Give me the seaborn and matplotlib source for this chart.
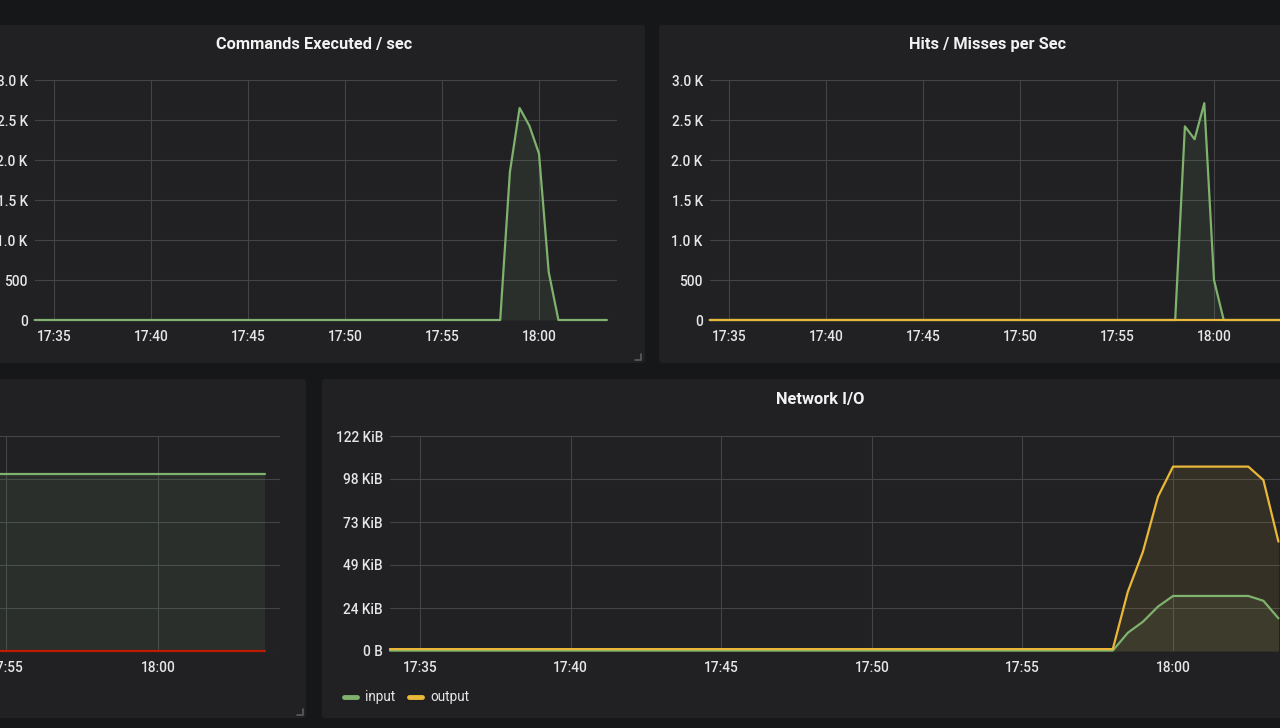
import pandas as pd
import matplotlib
matplotlib.use("Agg")
import matplotlib.pyplot as plt
import matplotlib.dates as mdates
from matplotlib.patches import FancyBboxPatch
from matplotlib.lines import Line2D
from matplotlib.ticker import FuncFormatter
import seaborn as sns

# ---- values ----
cmd_times = ["17:34:00", "17:58:00", "17:58:30", "17:59:00", "17:59:30",
             "18:00:00", "18:00:30", "18:01:00", "18:03:30"]
cmd_values = [0, 0, 1850, 2650, 2430, 2080, 600, 0, 0]

hits_times = ["17:34:00", "17:58:00", "17:58:30", "17:59:00", "17:59:30",
              "18:00:00", "18:00:30", "18:03:30"]
hits_values = [0, 0, 2420, 2260, 2710, 500, 0, 0]
miss_times = ["17:34:00", "18:03:30"]
miss_values = [0, 0]

mem_times = ["17:34:00", "18:03:30"]
mem_green = [4.12, 4.12]
mem_red = [0, 0]

net_times = ["17:34:00", "17:58:00", "17:58:30", "17:59:00", "17:59:30",
             "18:00:00", "18:02:30", "18:03:00", "18:03:30"]
net_input = [250, 250, 10600, 17000, 25800, 32000, 32000, 29200, 19000]
net_output = [1100, 1100, 34500, 57700, 89700, 107200, 107200, 99400, 63600]

cmd_yticks = [0, 500, 1000, 1500, 2000, 2500, 3000]
mem_yticks = [0, 1, 2, 3, 4, 5]
net_yticks = [0, 25000, 50000, 75000, 100000, 125000]
legend_labels = ["input", "output"]

# ---- look ----
BG = "#161719"
PANEL = "#212124"
GRID = "#444447"
TEXT = "#e6e6e7"
TITLE = "#f2f2f2"
GREEN = "#7eb26d"
YELLOW = "#eab839"
RED = "#bf1b00"
W, H = 1280, 728

sns.set_theme(style="dark")
plt.rcParams["font.family"] = ["Roboto", "DejaVu Sans"]


def to_dt(times):
    return pd.to_datetime(["2019-01-01 " + t for t in times])


XLIM = (to_dt(["17:34:00"])[0], to_dt(["18:04:00"])[0])

fig = plt.figure(figsize=(W / 100, H / 100), dpi=100)
fig.patch.set_facecolor(BG)


def panel(left, top, right, bottom):
    box = FancyBboxPatch((left / 100, (H - bottom) / 100), (right - left) / 100,
                         (bottom - top) / 100, boxstyle="round,pad=0,rounding_size=0.03",
                         transform=fig.dpi_scale_trans, facecolor=PANEL, edgecolor="none",
                         zorder=0)
    fig.add_artist(box)


def px_axes(left, top, right, bottom):
    ax = fig.add_axes([left / W, 1 - bottom / H, (right - left) / W, (bottom - top) / H])
    ax.patch.set_visible(False)
    for s in ax.spines.values():
        s.set_visible(False)
    ax.set_axisbelow(True)
    ax.grid(True, color=GRID, linewidth=0.8)
    ax.tick_params(length=0, colors=TEXT, labelsize=9.8)
    ax.tick_params(axis="x", pad=7.5)
    ax.tick_params(axis="y", pad=5)
    return ax


def series(ax, times, values, color, fill=True):
    dt = to_dt(times)
    if fill:
        ax.fill_between(dt, values, 0, color=color, alpha=0.1, linewidth=0)
    sns.lineplot(x=dt, y=values, color=color, linewidth=1.6, ax=ax, legend=False)


def finish(ax, yticks, fmt):
    ax.set_xlim(*XLIM)
    ax.set_ylim(yticks[0], yticks[-1])
    ax.set_yticks(yticks)
    ax.yaxis.set_major_formatter(FuncFormatter(fmt))
    ax.xaxis.set_major_locator(mdates.MinuteLocator(byminute=range(0, 60, 5)))
    ax.xaxis.set_major_formatter(mdates.DateFormatter("%H:%M"))
    ax.set_xlabel("")
    ax.set_ylabel("")
    for lbl in ax.get_xticklabels() + ax.get_yticklabels():
        lbl.set_fontweight("medium")
    for ln in ax.lines:
        ln.set_clip_on(False)


def k_fmt(v, pos):
    return "0" if v == 0 else (f"{v / 1000:.1f} K" if v >= 1000 else f"{v:.0f}")


def kib_fmt(v, pos):
    return "0 B" if v == 0 else f"{v / 1024:.0f} KiB"


def title(x, y, text):
    fig.text(x / W, 1 - y / H, text, ha="center", va="center",
             color=TITLE, fontsize=11.8, fontweight="bold")


# panels
panel(-20, 25, 645, 363)
panel(659, 25, 1320, 363)
panel(-20, 379, 306, 718)
panel(322, 379, 1320, 718)

# Commands Executed / sec
ax1 = px_axes(34.6, 80, 616.6, 320)
series(ax1, cmd_times, cmd_values, GREEN)
finish(ax1, cmd_yticks, k_fmt)
title(314, 44.5, "Commands Executed / sec")

# Hits / Misses per Sec
ax2 = px_axes(709.6, 80, 1291.6, 320)
series(ax2, hits_times, hits_values, GREEN)
series(ax2, miss_times, miss_values, YELLOW)
finish(ax2, cmd_yticks, k_fmt)
title(988, 44.5, "Hits / Misses per Sec")

# bottom-left panel (mostly cut off)
ax3 = px_axes(-632, 436, 280, 651)
series(ax3, mem_times, mem_green, GREEN)
series(ax3, mem_times, mem_red, RED, fill=False)
finish(ax3, mem_yticks, lambda v, p: "")

# Network I/O
ax4 = px_axes(389.9, 436, 1293.5, 651)
series(ax4, net_times, net_input, GREEN)
series(ax4, net_times, net_output, YELLOW)
finish(ax4, net_yticks, kib_fmt)
title(820, 399.5, "Network I/O")

handles = [Line2D([], [], color=GREEN, linewidth=3.5),
           Line2D([], [], color=YELLOW, linewidth=3.5)]
fig.legend(handles, legend_labels, loc="center left", bbox_to_anchor=(344 / W, 1 - 697.5 / H),
           ncol=2, frameon=False, handlelength=0.95, handletextpad=0.6, columnspacing=1.0,
           borderpad=0, borderaxespad=0, fontsize=9.8, labelcolor=TEXT)

# little resize corners
for cx, cy in [(641, 360), (303, 715)]:
    fig.add_artist(Line2D([(cx - 6) / W, cx / W, cx / W],
                          [1 - cy / H, 1 - cy / H, 1 - (cy - 6) / H],
                          color="#5c5c60", linewidth=1.2))

fig.savefig("out.png", dpi=100, facecolor=BG)
